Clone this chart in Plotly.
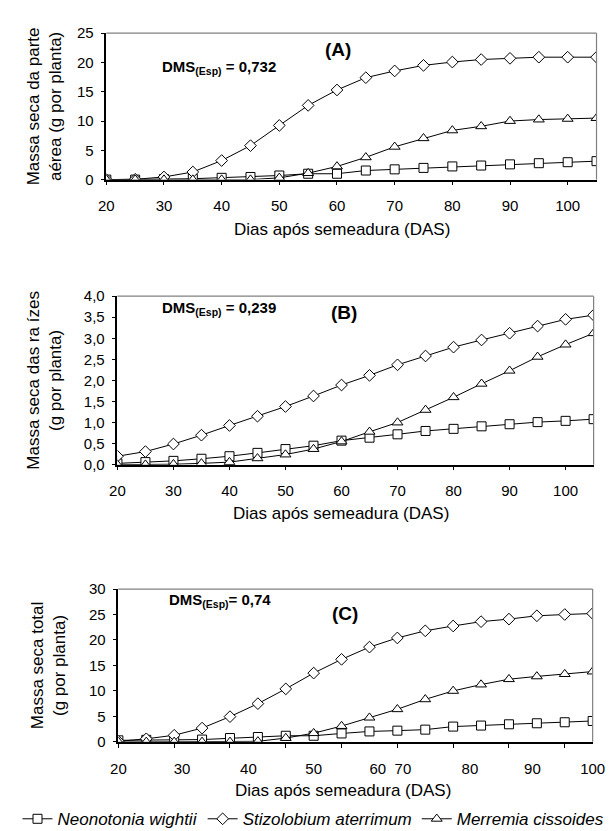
import plotly.graph_objects as go

W, H = 616, 831
days = [20, 25, 30, 35, 40, 45, 50, 55, 60, 65, 70, 75, 80, 85, 90, 95, 100, 105]
species = ["Neonotonia wightii", "Stizolobium aterrimum", "Merremia cissoides"]

# Panel A - shoot dry mass (g per plant)
a_neo = [0.0, 0.0, 0.1, 0.15, 0.3, 0.45, 0.7, 1.0, 1.0, 1.55, 1.75, 2.0, 2.25, 2.4, 2.6, 2.8, 2.97, 3.15]
a_sti = [0.0, 0.05, 0.45, 1.3, 3.25, 5.8, 9.25, 12.67, 15.3, 17.4, 18.55, 19.5, 20.07, 20.5, 20.7, 20.9, 20.9, 20.9]
a_mer = [0.0, 0.0, 0.0, 0.0, 0.0, 0.0, 0.3, 1.1, 2.25, 3.8, 5.6, 7.06, 8.4, 9.1, 10.0, 10.25, 10.37, 10.5]
# Panel B - root dry mass
b_neo = [0.03, 0.06, 0.09, 0.14, 0.2, 0.28, 0.37, 0.45, 0.57, 0.64, 0.72, 0.8, 0.85, 0.91, 0.96, 1.01, 1.04, 1.08]
b_sti = [0.2, 0.31, 0.49, 0.7, 0.93, 1.15, 1.38, 1.63, 1.89, 2.12, 2.37, 2.58, 2.79, 2.96, 3.12, 3.29, 3.45, 3.55]
b_mer = [0.0, 0.0, 0.01, 0.03, 0.06, 0.15, 0.24, 0.37, 0.55, 0.78, 1.0, 1.3, 1.6, 1.92, 2.23, 2.56, 2.85, 3.12]
# Panel C - total dry mass
c_neo = [0.3, 0.4, 0.4, 0.45, 0.75, 0.95, 1.2, 1.2, 1.65, 2.05, 2.2, 2.4, 3.0, 3.2, 3.45, 3.65, 3.85, 4.1]
c_sti = [0.1, 0.6, 1.3, 2.7, 4.95, 7.5, 10.4, 13.5, 16.2, 18.6, 20.4, 21.8, 22.75, 23.6, 24.1, 24.75, 25.0, 25.2]
c_mer = [0.0, 0.0, 0.0, 0.0, 0.0, 0.1, 0.75, 1.7, 3.1, 4.75, 6.4, 8.35, 10.0, 11.25, 12.3, 12.85, 13.3, 13.8]

xticks_ab = [20, 30, 40, 50, 60, 70, 80, 90, 100]
yticks_a = [0, 5, 10, 15, 20, 25]
yticks_b = [0, 0.5, 1.0, 1.5, 2.0, 2.5, 3.0, 3.5, 4.0]
yticks_b_text = ["0,0", "0,5", "1,0", "1,5", "2,0", "2,5", "3,0", "3,5", "4,0"]
yticks_c = [0, 5, 10, 15, 20, 25, 30]
# panel C: tick labels printed at shifted positions, tick marks at regular ones
xticks_c_pos = [20, 31.4, 43.3, 55.0, 66.5, 71.0, 83.0, 94.2, 105]
xticks_c_text = ["20", "30", "40", "50", "60", "70", "80", "90", "100"]
xticks_c_marks = [20, 30, 40, 50, 60, 70, 80, 90, 100]

dms = ["DMS<sub>(Esp)</sub> = 0,732", "DMS<sub>(Esp)</sub> = 0,239", "DMS<sub>(Esp)</sub>= 0,74"]
panel_tags = ["(A)", "(B)", "(C)"]
ytitles = ["Massa seca da parte<br>aérea (g por planta)",
           "Massa seca das ra ízes<br>(g por planta)",
           "Massa seca total<br>(g por planta)"]
xtitle = "Dias após semeadura (DAS)"

FONT = "Liberation Sans, Arial, sans-serif"
symbols = ["square", "diamond", "triangle-up"]
msizes = [9, 9, 9.5]

def px(x):
    return x / W

def py(y):
    return 1 - y / H

# panel frames in pixels: (left, right, top, bottom)
frames = [(93.5, 601, 16.5, 166), (105, 598, 285, 457), (106, 597, 584, 740)]
ystandoff = [11, 18, 19]

fig = go.Figure()
data = [(a_neo, a_sti, a_mer), (b_neo, b_sti, b_mer), (c_neo, c_sti, c_mer)]
for p, series in enumerate(data):
    xa = "x" if p == 0 else f"x{p+1}"
    ya = "y" if p == 0 else f"y{p+1}"
    for s, vals in enumerate(series):
        fig.add_trace(go.Scatter(
            x=days, y=vals, xaxis=xa, yaxis=ya, mode="lines+markers",
            name=f"<i>{species[s]}</i>", showlegend=(p == 2),
            line=dict(color="black", width=1),
            marker=dict(symbol=symbols[s], size=msizes[s], color="white",
                        line=dict(color="black", width=1)),
        ))

common_x = dict(showline=True, linecolor="black", linewidth=1.5, showgrid=False, zeroline=False,
                tickfont=dict(family=FONT, size=15, color="black"), ticks="outside",
                ticklen=4, tickcolor="black", ticklabelstandoff=8)
common_y = dict(showline=True, linecolor="black", linewidth=1.5, showgrid=False, zeroline=False,
                tickfont=dict(family=FONT, size=15, color="black"), ticks="outside",
                ticklen=4, tickcolor="black", ticklabelstandoff=4)

layout = dict(width=W, height=H, margin=dict(l=0, r=0, t=0, b=0),
              paper_bgcolor="white", plot_bgcolor="white",
              font=dict(family=FONT, color="black"))
for p, (l, r, t, b) in enumerate(frames):
    xk = "xaxis" if p == 0 else f"xaxis{p+1}"
    yk = "yaxis" if p == 0 else f"yaxis{p+1}"
    ya = "y" if p == 0 else f"y{p+1}"
    xa = "x" if p == 0 else f"x{p+1}"
    xd = dict(common_x, domain=[px(l), px(r)], anchor=ya, range=[20, 105])
    if p < 2:
        xd.update(tickmode="array", tickvals=xticks_ab, ticktext=[str(v) for v in xticks_ab])
    else:
        xd.update(tickmode="array", tickvals=xticks_c_pos, ticktext=xticks_c_text, ticks="",
                  ticklabelstandoff=12,
                  minor=dict(tickmode="array", tickvals=xticks_c_marks, ticks="outside",
                             ticklen=4, tickcolor="black", showgrid=False))
    yd = dict(common_y, domain=[py(b), py(t)], anchor=xa,
              title=dict(text=ytitles[p], standoff=ystandoff[p],
                         font=dict(family=FONT, size=17, color="black")))
    if p == 0:
        yd.update(range=[0, 25], tickmode="array", tickvals=yticks_a, ticktext=[str(v) for v in yticks_a])
    elif p == 1:
        yd.update(range=[0, 4], tickmode="array", tickvals=yticks_b, ticktext=yticks_b_text)
    else:
        yd.update(range=[0, 30], tickmode="array", tickvals=yticks_c, ticktext=[str(v) for v in yticks_c])
    layout[xk] = xd
    layout[yk] = yd

fig.update_layout(**layout)

# grey top/right frame lines
for p in range(3):
    xa = "x" if p == 0 else f"x{p+1}"
    ya = "y" if p == 0 else f"y{p+1}"
    fig.add_shape(type="line", xref=f"{xa} domain", yref=f"{ya} domain", x0=0, x1=1, y0=1, y1=1,
                  line=dict(color="#808080", width=1.2))
    fig.add_shape(type="line", xref=f"{xa} domain", yref=f"{ya} domain", x0=1, x1=1, y0=0, y1=1,
                  line=dict(color="#808080", width=1.2))

# annotations: DMS, panel tag, x-axis titles
dms_pos = [(149, 52), (149, 298), (156, 596)]
tag_pos = [(333, 33), (340, 302), (341, 609)]
xtitle_pos = [(337, 217), (336, 507), (339, 790)]
for p in range(3):
    fig.add_annotation(text=f"<b>{dms[p]}</b>", x=px(dms_pos[p][0]), y=py(dms_pos[p][1]),
                       xref="paper", yref="paper", xanchor="left", yanchor="middle",
                       showarrow=False, font=dict(family=FONT, size=15, color="black"))
    fig.add_annotation(text=f"<b>{panel_tags[p]}</b>", x=px(tag_pos[p][0]), y=py(tag_pos[p][1]),
                       xref="paper", yref="paper", xanchor="center", yanchor="middle",
                       showarrow=False, font=dict(family=FONT, size=19, color="black"))
    fig.add_annotation(text=xtitle, x=px(xtitle_pos[p][0]), y=py(xtitle_pos[p][1]),
                       xref="paper", yref="paper", xanchor="center", yanchor="middle",
                       showarrow=False, font=dict(family=FONT, size=17, color="black"))

fig.update_layout(legend=dict(orientation="h", x=0.5, xanchor="center", y=py(819), yanchor="middle",
                              font=dict(family=FONT, size=17, color="black"),
                              bgcolor="rgba(0,0,0,0)", itemwidth=30, tracegroupgap=0))

fig.write_html("out.html")
